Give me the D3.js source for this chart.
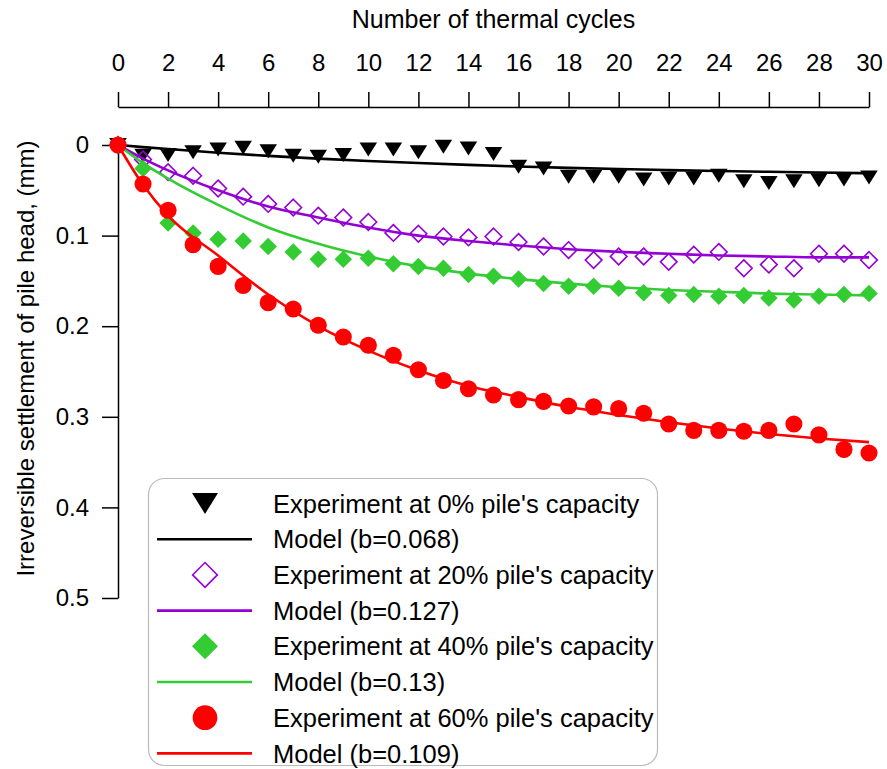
<!DOCTYPE html>
<html>
<head>
<meta charset="utf-8">
<script src="https://cdn.jsdelivr.net/npm/d3@7"></script>
<style>
  html, body { margin: 0; padding: 0; background: #fff; }
  svg { display: block; font-family: "Liberation Sans", Arial, sans-serif; }
</style>
</head>
<body>
<svg id="chart" width="887" height="769"></svg>
<script>
// ---------- data ----------
const cycles = d3.range(0, 31); // experiment cycles 0..30
const exp0  = [0,0.012,0.011,0.008,0.005,0.003,0.007,0.012,0.013,0.011,0.005,0.005,0.008,0.002,0.004,0.010,0.024,0.026,0.035,0.035,0.035,0.038,0.037,0.037,0.034,0.040,0.042,0.040,0.039,0.038,0.036];
const exp20 = [0,0.016,0.030,0.034,0.048,0.057,0.065,0.069,0.078,0.080,0.085,0.097,0.098,0.101,0.102,0.101,0.107,0.112,0.116,0.127,0.123,0.123,0.129,0.121,0.118,0.136,0.132,0.136,0.120,0.120,0.127];
const exp40 = [0,0.026,0.086,0.097,0.104,0.106,0.112,0.118,0.126,0.126,0.125,0.131,0.134,0.136,0.143,0.145,0.148,0.153,0.156,0.156,0.158,0.163,0.166,0.165,0.167,0.166,0.169,0.171,0.167,0.165,0.164];
const exp60 = [0,0.043,0.072,0.110,0.134,0.155,0.174,0.181,0.199,0.212,0.221,0.232,0.248,0.260,0.269,0.276,0.281,0.283,0.288,0.289,0.291,0.296,0.308,0.315,0.315,0.316,0.315,0.308,0.320,0.336,0.340];

const modelCycles = [0,1,2,4,6,8,10,12,14,16,18,20,22,24,26,28,30];
const model0  = [0,0.0023,0.0045,0.0085,0.012,0.015,0.0176,0.0199,0.0219,0.0237,0.0252,0.0265,0.0277,0.0287,0.0296,0.0304,0.0311];
const model20 = [0,0.015,0.028,0.050,0.068,0.080,0.091,0.100,0.106,0.111,0.115,0.118,0.120,0.122,0.123,0.124,0.124];
const model40 = [0,0.020,0.037,0.066,0.091,0.109,0.123,0.134,0.142,0.148,0.153,0.157,0.160,0.162,0.164,0.165,0.166];
const model60 = [0,0.044,0.078,0.122,0.165,0.200,0.227,0.249,0.266,0.278,0.289,0.298,0.306,0.313,0.319,0.324,0.328];

const xTicks = d3.range(0, 31, 2);
const yTicks = [0, 0.1, 0.2, 0.3, 0.4, 0.5];

const series = [
  { exp: exp0,  model: model0,  color: "#000000", marker: "triangle", expLabel: "Experiment at 0% pile's capacity",  modelLabel: "Model (b=0.068)" },
  { exp: exp20, model: model20, color: "#9400D3", marker: "diamondOpen", expLabel: "Experiment at 20% pile's capacity", modelLabel: "Model (b=0.127)" },
  { exp: exp40, model: model40, color: "#33CC33", marker: "diamond", expLabel: "Experiment at 40% pile's capacity", modelLabel: "Model (b=0.13)" },
  { exp: exp60, model: model60, color: "#FF0000", marker: "circle", expLabel: "Experiment at 60% pile's capacity", modelLabel: "Model (b=0.109)" }
];

// ---------- layout ----------
const svg = d3.select("#chart");
const pLeft = 118, pRight = 869, pTop = 145, pBottom = 598, axisY = 107;
const x = d3.scaleLinear().domain([0, 30]).range([pLeft, pRight]);
const y = d3.scaleLinear().domain([0, 0.5]).range([pTop, pBottom]);

// x axis (top)
const xAxis = svg.append("g").attr("transform", `translate(0,${axisY})`)
  .call(d3.axisTop(x).tickValues(xTicks).tickSize(15).tickPadding(21).tickSizeOuter(0));
xAxis.select(".domain").attr("stroke", "#000").attr("stroke-width", 1.5);
xAxis.selectAll(".tick line").attr("stroke", "#000").attr("stroke-width", 1.5);
xAxis.selectAll(".tick text").attr("font-size", 24).attr("fill", "#000")
  .attr("font-family", "Liberation Sans, Arial, sans-serif");

svg.append("text").attr("x", (pLeft + pRight) / 2).attr("y", 28)
  .attr("text-anchor", "middle").attr("font-size", 25).text("Number of thermal cycles");

// y axis (left)
const yAxis = svg.append("g").attr("transform", `translate(${pLeft},0)`)
  .call(d3.axisLeft(y).tickValues(yTicks).tickSize(16).tickPadding(13).tickSizeOuter(0)
    .tickFormat(d => d === 0 ? "0" : d3.format(".1f")(d)));
yAxis.select(".domain").attr("stroke", "#000").attr("stroke-width", 1.5);
yAxis.selectAll(".tick line").attr("stroke", "#000").attr("stroke-width", 1.5);
yAxis.selectAll(".tick text").attr("font-size", 24).attr("fill", "#000")
  .attr("font-family", "Liberation Sans, Arial, sans-serif");

svg.append("text")
  .attr("transform", `translate(34,${(pTop + pBottom) / 2 - 13}) rotate(-90)`)
  .attr("text-anchor", "middle").attr("font-size", 24)
  .text("Irreversible settlement of pile head, (mm)");

// ---------- markers ----------
function drawMarker(g, type, color, size) {
  const h = size / 2;
  if (type === "triangle") {
    g.append("path").attr("d", `M${-h},${-h * 0.8}L${h},${-h * 0.8}L0,${h * 0.8}Z`).attr("fill", color);
  } else if (type === "diamondOpen") {
    const k = h * 0.95;
    g.append("path").attr("d", `M0,${-k}L${k},0L0,${k}L${-k},0Z`).attr("fill", "#fff")
      .attr("fill-opacity", 0).attr("stroke", color).attr("stroke-width", 1.6);
  } else if (type === "diamond") {
    g.append("path").attr("d", `M0,${-h}L${h},0L0,${h}L${-h},0Z`).attr("fill", color);
  } else if (type === "circle") {
    g.append("circle").attr("r", h * 0.95).attr("fill", color);
  }
}

const line = d3.line().curve(d3.curveMonotoneX);
const plot = svg.append("g");
series.forEach(s => {
  plot.append("path")
    .attr("d", line(modelCycles.map((c, i) => [x(c), y(s.model[i])])))
    .attr("fill", "none").attr("stroke", s.color).attr("stroke-width", 2.6);
  cycles.forEach((c, i) => {
    const g = plot.append("g").attr("transform", `translate(${x(c)},${y(s.exp[i])})`);
    drawMarker(g, s.marker, s.color, s.marker === "circle" ? 18 : 17.5);
  });
});

// ---------- legend ----------
const lg = svg.append("g");
lg.append("rect").attr("x", 148.5).attr("y", 478.5).attr("width", 509).attr("height", 287)
  .attr("rx", 16).attr("fill", "#fff").attr("stroke", "#bbbbbb").attr("stroke-width", 1.2);
const rowY0 = 503.5, rowStep = 35.7;
series.forEach((s, i) => {
  const yE = rowY0 + rowStep * (2 * i);
  const yM = rowY0 + rowStep * (2 * i + 1);
  const g = lg.append("g").attr("transform", `translate(205,${yE})`);
  drawMarker(g, s.marker, s.color, 26);
  lg.append("text").attr("x", 273).attr("y", yE).attr("dy", "0.36em")
    .attr("font-size", 25.5).text(s.expLabel);
  lg.append("line").attr("x1", 157).attr("x2", 252).attr("y1", yM).attr("y2", yM)
    .attr("stroke", s.color).attr("stroke-width", 2.6);
  lg.append("text").attr("x", 273).attr("y", yM).attr("dy", "0.36em")
    .attr("font-size", 25.5).text(s.modelLabel);
});
</script>
</body>
</html>
